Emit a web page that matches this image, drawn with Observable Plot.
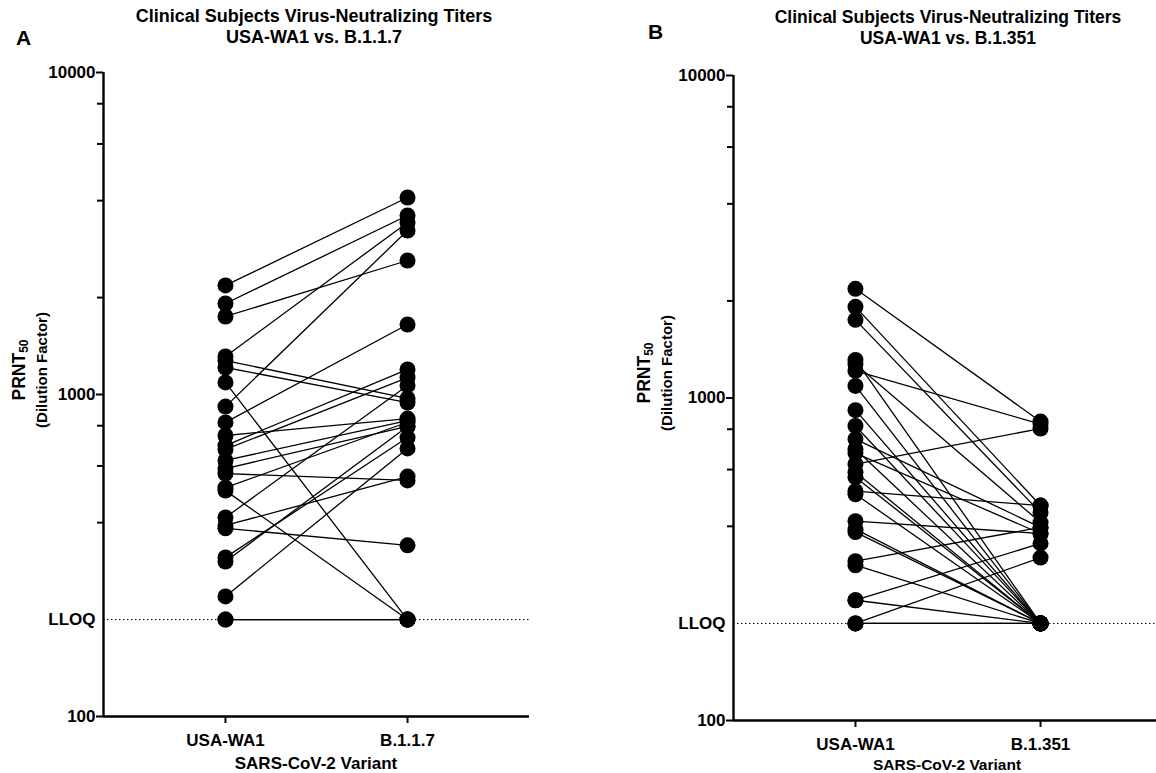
<!DOCTYPE html>
<html><head><meta charset="utf-8">
<script src="https://cdn.jsdelivr.net/npm/d3@7"></script>
<script src="https://cdn.jsdelivr.net/npm/@observablehq/plot@0.6"></script>
<style>
body{margin:0;width:1156px;height:773px;overflow:hidden;background:#fff;font-family:"Liberation Sans",Arial,sans-serif;position:relative;color:#000}
.abs{position:absolute}
svg{max-width:none !important}
.title{font-weight:bold;text-align:center;line-height:21px;width:500px}
.letter{font-weight:bold;font-size:21px;line-height:24px}
.ylab{font-weight:bold;font-size:15px;line-height:17px;white-space:nowrap;text-align:center;transform:translate(-50%,-50%) rotate(-90deg)}
.ylab .p{font-size:17.5px}
.ylab sub{font-size:12px;vertical-align:-3px}
.xlab{font-weight:bold;text-align:center;width:300px;transform:translate(-50%,-50%)}
</style></head><body>
<div id="pA" class="abs" style="left:0;top:0;width:578px"></div>
<div id="pB" class="abs" style="left:620px;top:0;width:560px"></div>
<div class="abs letter" style="left:16px;top:26px">A</div>
<div class="abs letter" style="left:648px;top:20px">B</div>
<div class="abs title" style="left:64px;top:6px;font-size:18px">Clinical Subjects Virus-Neutralizing Titers<br>USA-WA1 vs. B.1.1.7</div>
<div class="abs title" style="left:698px;top:7px;font-size:17.5px">Clinical Subjects Virus-Neutralizing Titers<br>USA-WA1 vs. B.1.351</div>
<div class="abs ylab" style="left:30px;top:370px"><span class="p">PRNT<sub>50</sub></span><br>(Dilution Factor)</div>
<div class="abs ylab" style="left:655px;top:373px"><span class="p">PRNT<sub>50</sub></span><br>(Dilution Factor)</div>
<div class="abs xlab" style="left:316px;top:764px;font-size:17px">SARS-CoV-2 Variant</div>
<div class="abs xlab" style="left:947px;top:765px;font-size:15.5px">SARS-CoV-2 Variant</div>
<script>
// ---- data ----
const catsA = ["USA-WA1", "B.1.1.7"];
const catsB = ["USA-WA1", "B.1.351"];
const LLOQ = 200;
const yMajor = [100, 1000, 10000];
const yMinor = [400, 600, 800, 2000, 4000, 6000, 8000];
// Panel A: USA-WA1 vs B.1.1.7 (paired per subject)
const waA  = [2181,1917,1747,1312,1275,1213,1090,917,819,746,694,675,624,589,568,514,503,415,392,384,312,303,236,200,200];
const b117 = [4091,3596,2607,3422,972,944,200,3231,1650,842,1196,1129,830,796,541,820,200,1067,556,340,735,796,680,200,200];
// Panel B: USA-WA1 vs B.1.351 (paired per subject)
const waB   = [2181,1917,1747,1312,1275,1213,1090,917,819,746,694,675,624,589,568,514,503,415,392,384,312,303,236,236,200,200,200];
const b1351 = [845,464,441,200,411,830,200,200,200,397,200,380,804,200,200,464,200,380,200,200,397,200,354,200,320,200,200];

function panel(cats, wa, vr, opts) {
  const pairs = wa.map((w, i) => ({a: w, b: vr[i]}));
  const pts = pairs.flatMap(p => [{x: 0, y: p.a}, {x: 1, y: p.b}]);
  const pad = opts.pad;
  const bold = {fontSize: 17, fontWeight: "bold", fill: "black"};
  return Plot.plot({
    width: opts.width, height: 773,
    marginLeft: opts.ml, marginRight: opts.mr, marginTop: opts.mt, marginBottom: opts.mb,
    x: {domain: [-pad, 1 + pad], axis: null},
    y: {type: "log", domain: [100, 10000], axis: null},
    style: {fontFamily: "Liberation Sans, Arial, sans-serif", background: "white", color: "black", overflow: "visible"},
    marks: [
      Plot.ruleY([LLOQ], {stroke: "black", strokeWidth: 1, strokeDasharray: "1.5,2.5"}),
      Plot.link(pairs, {x1: () => 0, x2: () => 1, y1: "a", y2: "b", stroke: "black", strokeWidth: 1.3}),
      Plot.dot(pts, {x: "x", y: "y", r: 8, fill: "black", stroke: "none"}),
      Plot.ruleX([-pad], {stroke: "black", strokeWidth: 2.4}),
      Plot.ruleY([100], {stroke: "black", strokeWidth: 2.4}),
      Plot.axisY(yMajor, {tickSize: 7, tickPadding: 1, strokeWidth: 2, tickFormat: d => String(d), label: null, ...bold}),
      Plot.axisY(yMinor, {tickSize: 6, strokeWidth: 2, tickFormat: () => "", label: null}),
      Plot.axisY([LLOQ], {tickSize: 0, tickPadding: 8, tickFormat: () => "LLOQ", label: null, ...bold}),
      Plot.axisX([0, 1], {tickSize: 7, tickPadding: 10, strokeWidth: 2, tickFormat: i => cats[i], label: null, ...bold})
    ]
  });
}

document.getElementById("pA").append(panel(catsA, waA, b117, {width: 578, ml: 103, mr: 49, mt: 72, mb: 57, pad: 0.67}));
document.getElementById("pB").append(panel(catsB, waB, b1351, {width: 560, ml: 113, mr: 18, mt: 75, mb: 53, pad: 0.659}));
</script>
</body></html>
